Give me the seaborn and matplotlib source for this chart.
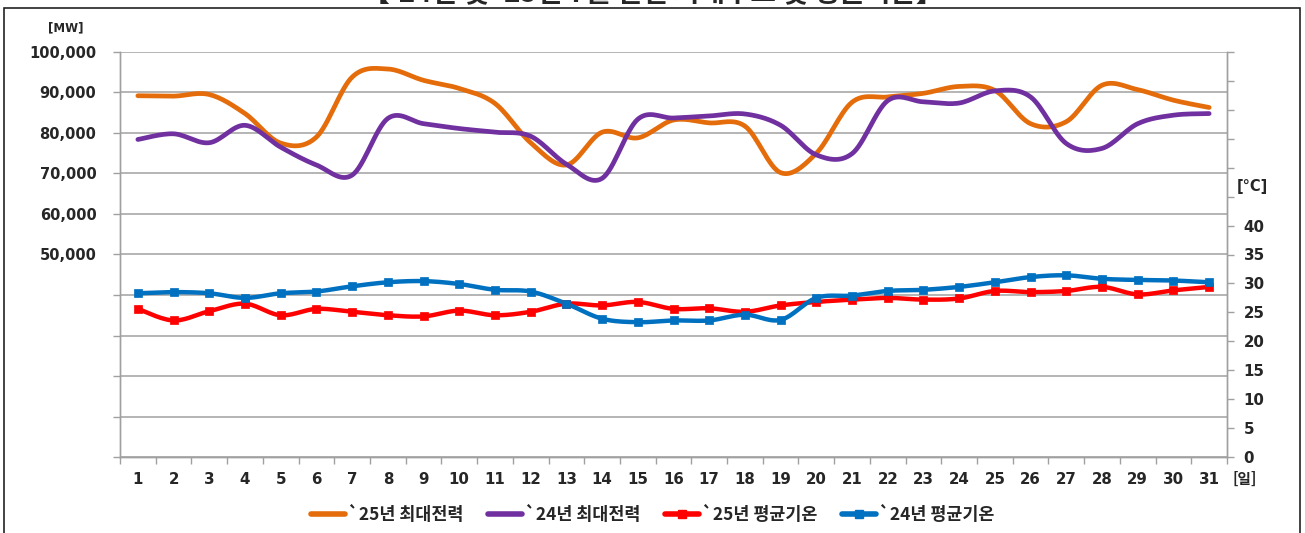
import numpy as np
import pandas as pd
import matplotlib
matplotlib.use("Agg")
import matplotlib.pyplot as plt
from matplotlib.lines import Line2D
from matplotlib.patches import Rectangle
import seaborn as sns

# daily values, July
days = list(range(1, 32))
load_25 = [89200, 89100, 89500, 84800, 77500, 79000, 93800, 95800, 93000, 91000, 87300,
           77600, 72100, 80200, 78800, 83200, 82500, 81700, 70200, 75000, 87600, 88900,
           89800, 91500, 90500, 82300, 82800, 91800, 90700, 88100, 86300]
load_24 = [78400, 79800, 77600, 81900, 76500, 72100, 69600, 83600, 82300, 81100, 80200,
           79200, 72300, 68800, 83400, 83700, 84200, 84700, 81900, 74600, 74900, 88000,
           87700, 87400, 90400, 88900, 77400, 76200, 82300, 84400, 84800]
temp_25 = [25.6, 23.6, 25.2, 26.5, 24.5, 25.6, 25.1, 24.5, 24.3, 25.3, 24.5, 25.1, 26.5,
           26.2, 26.8, 25.6, 25.7, 25.1, 26.2, 26.8, 27.2, 27.5, 27.2, 27.4, 28.7, 28.5,
           28.7, 29.4, 28.1, 28.8, 29.4]
temp_24 = [28.3, 28.5, 28.3, 27.5, 28.3, 28.6, 29.5, 30.2, 30.4, 29.9, 28.9, 28.6, 26.5,
           23.9, 23.3, 23.6, 23.6, 24.6, 23.7, 27.5, 27.9, 28.7, 28.9, 29.4, 30.2, 31.1,
           31.4, 30.8, 30.6, 30.5, 30.2]

labels = ["`25년 최대전력", "`24년 최대전력", "`25년 평균기온", "`24년 평균기온"]
colors = ["#E46C0A", "#7030A0", "#FF0000", "#0070C0"]
title = "【'24년 및 '25년 7월 일별 최대수요 및 평균기온】"


def smooth(x, y, n=16):
    # catmull-rom curve through the points, like excel's smoothed line
    x = np.asarray(x, float)
    y = np.asarray(y, float)
    px = np.concatenate([[x[0]], x, [x[-1]]])
    py = np.concatenate([[y[0]], y, [y[-1]]])
    t = np.linspace(0, 1, n, endpoint=False)[:, None]
    out = []
    for p in (px, py):
        p0, p1, p2, p3 = p[:-3], p[1:-2], p[2:-1], p[3:]
        seg = 0.5 * (2 * p1 + (-p0 + p2) * t + (2 * p0 - 5 * p1 + 4 * p2 - p3) * t ** 2
                     + (-p0 + 3 * p1 - 3 * p2 + p3) * t ** 3)
        out.append(np.concatenate([seg.T.ravel(), [p[-2]]]))
    return pd.DataFrame({"day": out[0], "value": out[1]})


sns.set_style("white")
plt.rcParams["font.family"] = ["DejaVu Sans", "Noto Sans CJK KR"]
plt.rcParams["font.weight"] = "bold"

fig = plt.figure(figsize=(13.05, 5.33), dpi=100)
ax = fig.add_axes([120 / 1305, 76 / 533, 1107 / 1305, 405 / 533])
ax2 = ax.twinx()

grey = "#A0A0A0"

for vals, c in zip([load_25, load_24], colors[:2]):
    sns.lineplot(data=smooth(days, vals), x="day", y="value", ax=ax, color=c,
                 lw=3.4, sort=False, estimator=None, zorder=3)

for vals, c in zip([temp_25, temp_24], colors[2:]):
    sns.lineplot(data=smooth(days, vals), x="day", y="value", ax=ax2, color=c,
                 lw=3.2, sort=False, estimator=None, zorder=3)
    sns.scatterplot(x=days, y=vals, ax=ax2, marker="s", s=34, color=c,
                    edgecolor=c, linewidth=0.5, zorder=4)

# left axis
ax.set_ylim(0, 100000)
yt = np.arange(0, 100001, 10000)
ax.set_yticks(yt)
ax.set_yticklabels([f"{v:,}" if v >= 50000 else "" for v in yt])
ax.yaxis.grid(True, color=grey, lw=1.1)
ax.set_axisbelow(True)

# category axis
ax.set_xlim(0.5, 31.5)
ax.set_xticks(np.arange(0.5, 32, 1))
ax.set_xticklabels([])
ax.set_xticks(days, minor=True)
ax.set_xticklabels([str(d) for d in days], minor=True)
ax.set_xlabel("")
ax.set_ylabel("")

# right axis
ax2.set_ylim(0, 70)
rt = np.arange(0, 71, 5)
ax2.set_yticks(rt)
ax2.set_yticklabels([str(v) if v <= 40 else "" for v in rt])
ax2.set_ylabel("")
ax2.grid(False)

for a in (ax, ax2):
    a.spines["top"].set_visible(False)
    for side in ("left", "right", "bottom"):
        a.spines[side].set_color(grey)
        a.spines[side].set_linewidth(1.0)

ax.tick_params(axis="y", which="major", direction="out", length=5, width=1, color=grey,
               labelsize=10.5, pad=12, left=True)
ax.tick_params(axis="x", which="major", direction="out", length=5, width=1, color=grey,
               bottom=True)
ax.tick_params(axis="x", which="minor", length=0, labelsize=10.8, pad=11)
ax2.tick_params(axis="y", direction="out", length=5, width=1, color=grey,
                labelsize=10.8, pad=7, right=True)
for lab in ax.get_xticklabels(minor=True) + ax.get_yticklabels() + ax2.get_yticklabels():
    lab.set_fontweight("bold")

# unit labels
fig.text(66 / 1305, 1 - 28 / 533, "[MW]", fontsize=8.5, fontweight="bold",
         ha="center", va="center")
fig.text(1252 / 1305, 1 - 186 / 533, "[°C]", fontsize=10.5, fontweight="bold",
         ha="center", va="center")
fig.text(1245 / 1305, 1 - 479 / 533, "[일]", fontsize=10.5, fontweight="bold",
         ha="center", va="center", family=["Noto Sans CJK KR"])

# title, cut off at the top like the source
fig.text(0.5, 1 + 6 / 533, title, fontsize=20, fontweight="bold", ha="center",
         va="center", family=["Noto Sans CJK KR", "DejaVu Sans"])

# frame around the chart
fig.patches.append(Rectangle((4 / 1305, -0.01), 1296 / 1305, 525 / 533 + 0.01,
                             transform=fig.transFigure, fill=False, ec="#222222",
                             lw=1.2, zorder=10))

handles = [
    Line2D([], [], color=colors[0], lw=4),
    Line2D([], [], color=colors[1], lw=4),
    Line2D([], [], color=colors[2], lw=4, marker="s", markersize=5.5),
    Line2D([], [], color=colors[3], lw=4, marker="s", markersize=5.5),
]
fig.legend(handles, labels, loc="center", bbox_to_anchor=(0.5, 18 / 533), ncol=4,
           frameon=False, handlelength=2.0, handletextpad=0.15, columnspacing=1.4,
           prop={"family": ["Noto Sans CJK KR", "DejaVu Sans"], "weight": "bold",
                 "size": 12.5})

fig.savefig("out.png", dpi=100)
